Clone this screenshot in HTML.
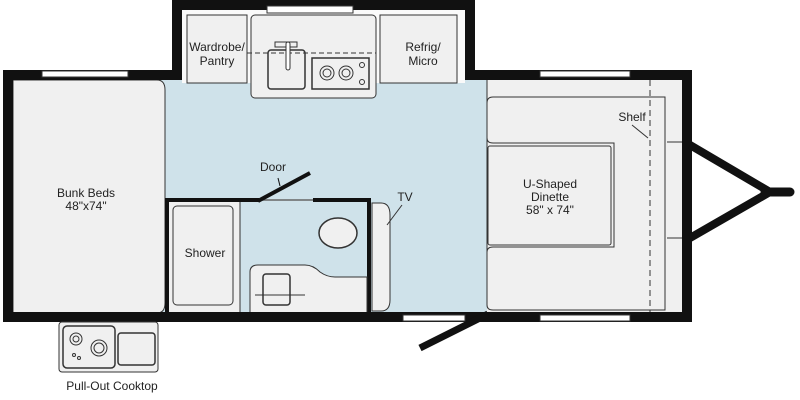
<!DOCTYPE html>
<html><head><style>body{margin:0;background:#fff}svg{display:block}text{font-family:"Liberation Sans",sans-serif;fill:#222}</style></head><body>
<svg width="800" height="400" viewBox="0 0 800 400" xmlns="http://www.w3.org/2000/svg">
<!-- floor -->
<rect x="13" y="80" width="670" height="233" fill="#cfe2ea"/>
<!-- slide top -->
<rect x="182" y="10" width="283" height="73" fill="#fafafa"/>
<rect x="182" y="83" width="283" height="5" fill="#cfe2ea"/>
<path d="M177 70V5H470V70" fill="none" stroke="#111" stroke-width="10"/>
<rect x="267" y="6" width="86" height="7" fill="#fff" stroke="#333" stroke-width="1"/>
<rect x="187" y="15" width="60" height="68" fill="#f0f0f0" stroke="#333"/>
<rect x="380" y="15" width="77" height="68" fill="#f0f0f0" stroke="#333"/>
<rect x="251" y="15" width="125" height="83" rx="4" fill="#f0f0f0" stroke="#333"/>
<line x1="247" y1="53" x2="376" y2="53" stroke="#333" stroke-dasharray="5,3"/>
<rect x="268" y="50" width="37" height="39" rx="3" fill="none" stroke="#333" stroke-width="1.5"/>
<rect x="275" y="42" width="22" height="5" fill="none" stroke="#333"/>
<rect x="286" y="42" width="4" height="28" rx="2" fill="#fff" stroke="#333"/>
<rect x="312" y="58" width="57" height="31" fill="none" stroke="#333" stroke-width="1.5"/>
<circle cx="327" cy="73" r="7" fill="none" stroke="#333"/><circle cx="327" cy="73" r="4" fill="none" stroke="#333"/>
<circle cx="346" cy="73" r="7" fill="none" stroke="#333"/><circle cx="346" cy="73" r="4" fill="none" stroke="#333"/>
<circle cx="362" cy="65" r="2.5" fill="none" stroke="#333"/><circle cx="362" cy="82" r="2.5" fill="none" stroke="#333"/>
<text x="217" y="51" font-size="12" text-anchor="middle">Wardrobe/</text>
<text x="217" y="65" font-size="12" text-anchor="middle">Pantry</text>
<text x="423" y="51" font-size="12" text-anchor="middle">Refrig/</text>
<text x="423" y="65" font-size="12" text-anchor="middle">Micro</text>
<!-- bunks -->
<path d="M13 80H157Q165 80 165 90V303Q165 313 157 313H13Z" fill="#f0f0f0" stroke="#333"/>
<text x="86" y="197" font-size="12" text-anchor="middle">Bunk Beds</text>
<text x="86" y="210" font-size="12" text-anchor="middle">48"x74"</text>
<!-- bath -->
<rect x="167" y="200" width="73" height="113" fill="#f0f0f0"/>
<rect x="173" y="206" width="60" height="99" rx="4" fill="#f0f0f0" stroke="#333"/>
<text x="205" y="257" font-size="12" text-anchor="middle">Shower</text>
<line x1="240" y1="202" x2="240" y2="313" stroke="#333"/>
<path d="M167 313V200H259M313 200H369V313" fill="none" stroke="#111" stroke-width="4"/>
<line x1="259" y1="200" x2="313" y2="200" stroke="#666" stroke-width="1.5"/>
<line x1="258" y1="201" x2="310" y2="173" stroke="#111" stroke-width="4"/>
<line x1="278" y1="178" x2="280" y2="186" stroke="#111"/>
<text x="273" y="171" font-size="12" text-anchor="middle">Door</text>
<path d="M250 313V272Q250 265 258 265H305Q313 265 320 272Q327 277 335 277H367V313Z" fill="#f0f0f0" stroke="#333"/>
<rect x="263" y="274" width="27" height="31" rx="3" fill="none" stroke="#333" stroke-width="1.5"/>
<line x1="255" y1="295" x2="305" y2="295" stroke="#333"/>
<ellipse cx="338" cy="233" rx="19" ry="15" fill="#f0f0f0" stroke="#333" stroke-width="1.5"/>
<path d="M372 203H381Q390 203 390 215V300Q390 311 381 311H372Z" fill="#f0f0f0" stroke="#333"/>
<line x1="387" y1="225" x2="402" y2="205" stroke="#333"/>
<text x="405" y="201" font-size="12" text-anchor="middle">TV</text>
<!-- dinette -->
<rect x="487" y="80" width="195" height="233" fill="#f0f0f0"/>
<path d="M487 80V305Q487 310 493 310H665V97H493Q487 97 487 103" fill="none" stroke="#333"/>
<path d="M487 80V138Q487 143 493 143H614V247H493Q487 247 487 252" fill="none" stroke="#333"/>
<rect x="488" y="146" width="123" height="99" rx="2" fill="#f0f0f0" stroke="#333"/>
<line x1="650" y1="80" x2="650" y2="313" stroke="#333" stroke-dasharray="6,4"/>
<line x1="667" y1="142" x2="682" y2="142" stroke="#333"/>
<line x1="667" y1="238" x2="682" y2="238" stroke="#333"/>
<line x1="632" y1="125" x2="648" y2="138" stroke="#333"/>
<text x="632" y="121" font-size="12" text-anchor="middle">Shelf</text>
<text x="550" y="188" font-size="12" text-anchor="middle">U-Shaped</text>
<text x="550" y="201" font-size="12" text-anchor="middle">Dinette</text>
<text x="550" y="214" font-size="12" text-anchor="middle">58" x 74"</text>
<!-- outer walls -->
<path d="M182 75H8V317H687V75H465" fill="none" stroke="#111" stroke-width="10"/>
<rect x="42" y="71" width="86" height="6" fill="#fff" stroke="#333" stroke-width="1"/>
<rect x="540" y="71" width="90" height="6" fill="#fff" stroke="#333" stroke-width="1"/>
<rect x="403" y="315" width="62" height="6" fill="#fff" stroke="#333" stroke-width="1"/>
<rect x="540" y="315" width="90" height="6" fill="#fff" stroke="#333" stroke-width="1"/>
<line x1="488" y1="314" x2="420" y2="348" stroke="#111" stroke-width="7"/>
<!-- tongue -->
<path d="M690 145L770 192L690 238" fill="none" stroke="#111" stroke-width="8"/>
<line x1="765" y1="192" x2="790" y2="192" stroke="#111" stroke-width="9" stroke-linecap="round"/>
<!-- cooktop -->
<rect x="59" y="322" width="99" height="50" rx="3" fill="#f0f0f0" stroke="#333"/>
<rect x="63" y="326" width="52" height="42" rx="4" fill="none" stroke="#333" stroke-width="1.5"/>
<circle cx="76" cy="339" r="6" fill="none" stroke="#333"/><circle cx="76" cy="339" r="3" fill="none" stroke="#333"/>
<circle cx="99" cy="348" r="8" fill="none" stroke="#333"/><circle cx="99" cy="348" r="5" fill="none" stroke="#333"/>
<circle cx="74" cy="355" r="1.5" fill="none" stroke="#333"/><circle cx="79" cy="358" r="1.5" fill="none" stroke="#333"/>
<rect x="118" y="333" width="37" height="32" rx="3" fill="none" stroke="#333" stroke-width="1.5"/>
<text x="112" y="390" font-size="12" text-anchor="middle">Pull-Out Cooktop</text>
</svg>
</body></html>
